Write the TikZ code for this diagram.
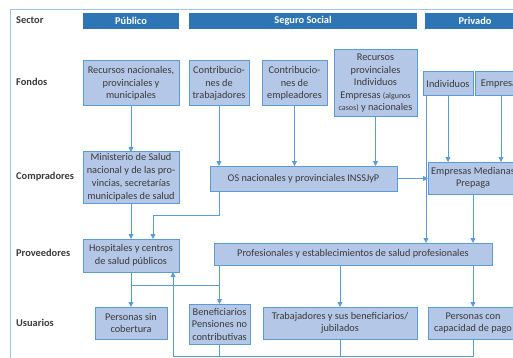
\documentclass[tikz,border=0pt]{standalone}
\usepackage{fontspec}
\setmainfont{Carlito}
\usetikzlibrary{arrows.meta,calc}
\definecolor{hdr}{HTML}{2E75B6}
\definecolor{bfill}{HTML}{B4C7E7}
\definecolor{bdraw}{HTML}{5B9BD5}
\definecolor{lncol}{HTML}{5B9BD5}
\definecolor{txt}{HTML}{3A3A3A}
\definecolor{framecol}{HTML}{9DC3E6}
\tikzset{
 box/.style={draw=bdraw, fill=bfill, line width=1pt, inner sep=0pt, outer sep=0pt, align=center, text=txt, font=\fontsize{10.3}{12.5}\selectfont},
 hdrbar/.style={fill=hdr, inner sep=0pt, outer sep=0pt, minimum height=16pt, text=white, font=\bfseries\fontsize{10.4}{12}\selectfont},
 rowlab/.style={anchor=west, text=txt, font=\bfseries\fontsize{10.4}{12}\selectfont, inner sep=0pt},
 arr/.style={draw=lncol, line width=0.8pt, -{Triangle[width=5pt,length=5pt]}},
 plain/.style={draw=lncol, line width=0.8pt},
}
\begin{document}
\begin{tikzpicture}[x=1pt,y=-1pt]
\useasboundingbox (0,0) rectangle (513,358);
\clip (0,0) rectangle (513,358);
\draw[framecol, line width=1pt] (10,10) rectangle (540,380);
% headers
\node[hdrbar, minimum width=96pt] (pub) at (131,21) {Público};
\node[hdrbar, minimum width=228pt] (ss) at (303,21) {Seguro Social};
\node[hdrbar, minimum width=100pt] (priv) at (475,21) {Privado};
% row labels
\node[rowlab] (lsec) at (16,20) {Sector};
\node[rowlab] (lfon) at (16,82) {Fondos};
\node[rowlab] (lcom) at (16,177) {Compradores};
\node[rowlab] (lpro) at (16,253) {Proveedores};
\node[rowlab] (lusu) at (16,323) {Usuarios};
% fondos
\node[box, minimum width=96pt, minimum height=45pt] (rn) at (131,83.5) {Recursos nacionales,\\provinciales y\\municipales};
\node[box, minimum width=60pt, minimum height=45pt] (ct) at (219,83.5) {Contribucio-\\nes de\\trabajadores};
\node[box, minimum width=65pt, minimum height=45pt] (ce) at (294.5,83.5) {Contribucio-\\nes de\\empleadores};
\node[box, minimum width=83pt, minimum height=67pt] (rp) at (375.5,83.5) {Recursos\\provinciales\\Individuos\\Empresas {\fontsize{8}{12.5}\selectfont(algunos}\\{\fontsize{8}{12.5}\selectfont casos)} y nacionales};
\node[box, minimum width=50pt, minimum height=24pt] (ind) at (448,84) {Individuos};
\node[box, minimum width=52pt, minimum height=24pt] (emp) at (501,84) {Empresas};
% compradores
\node[box, minimum width=96pt, minimum height=51pt, font=\fontsize{10.3}{13}\selectfont] (min) at (131,177.5) {Ministerio de Salud\\nacional y de las pro-\\vincias, secretarías\\municipales de salud};
\node[box, minimum width=187pt, minimum height=25pt] (os) at (303.5,178.5) {OS nacionales y provinciales INSSJyP};
\node[box, minimum width=90pt, minimum height=32pt] (em) at (473,178) {Empresas Medianas\\Prepaga};
% proveedores
\node[box, minimum width=96pt, minimum height=33pt] (hosp) at (131,255.5) {Hospitales y centros\\de salud públicos};
\node[box, minimum width=278pt, minimum height=22pt] (prof) at (353,254) {Profesionales y establecimientos de salud profesionales};
% usuarios
\node[box, minimum width=72pt, minimum height=32pt] (psc) at (131,323) {Personas sin\\cobertura};
\node[box, minimum width=61pt, minimum height=40pt] (ben) at (219.5,324) {Beneficiarios\\Pensiones no\\contributivas};
\node[box, minimum width=154pt, minimum height=32pt] (trab) at (340,323) {Trabajadores y sus beneficiarios/\\jubilados};
\node[box, minimum width=90pt, minimum height=32pt] (pcp) at (473,323) {Personas con\\capacidad de pago};
% connectors
\coordinate (indl) at ($(ind.south west)+(3,0)$);
\coordinate (hin) at ($(hosp.north)+(22,0)$);
\coordinate (bl) at (173,356);
\coordinate (hj) at ($(hosp.south)+(0,13)$);
\draw[arr] (rn.south) -- (min.north);
\draw[arr] (ct.south) -- (ct.south |- os.north);
\draw[arr] (ce.south) -- (ce.south |- os.north);
\draw[arr] (rp.south) -- (rp.south |- os.north);
\draw[arr] (indl) -- (indl |- prof.north);
\draw[arr] (ind.south) -- (ind.south |- em.north);
\draw[arr] (emp.south) -- (emp.south |- em.north);
\draw[arr] (os.east) -- (em.west |- os.east);
\draw[arr] (em.south) -- (em.south |- prof.north);
\draw[arr] (min.south) -- (hosp.north);
\draw[arr] (os.south -| ct.south) -- ++(0,24) -| (hin);
\draw[arr] (hosp.south) -- (psc.north);
\draw[arr] (prof.south -| ben.north) -- (ben.north);
\draw[plain] (hj) -- (hj -| ben.north);
\draw[arr] (prof.south -| trab.north) -- (trab.north);
\draw[arr] (prof.south -| pcp.north) -- (pcp.north);
\draw[plain] (ben.south) -- (ben.south |- bl);
\draw[plain] (trab.south) -- (trab.south |- bl);
\draw[plain] (pcp.south) -- (pcp.south |- bl) -- (bl);
\draw[arr] (bl) -- (bl |- hosp.south);
\end{tikzpicture}
\end{document}
